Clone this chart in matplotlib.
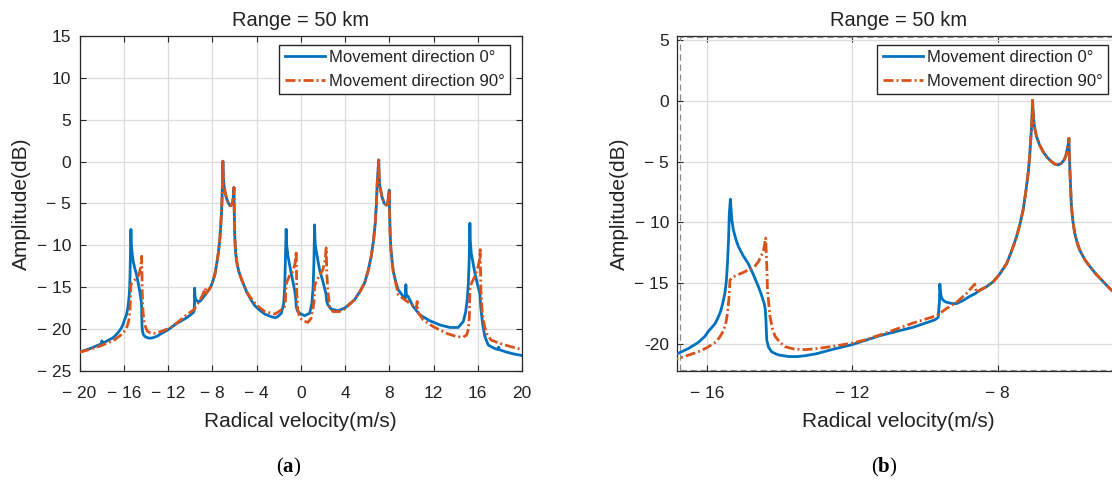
import matplotlib
matplotlib.use("Agg")
import matplotlib.pyplot as plt
from matplotlib.patches import Rectangle

# ---------------- data ----------------
# (radial velocity m/s, amplitude dB) for the 0 deg movement direction
spectrum_0deg = [
    (-20.00, -22.75), (-19.00, -22.30), (-18.30, -21.90), (-18.02, -21.75), (-17.97, -21.40),
    (-17.92, -21.70), (-17.50, -21.40), (-17.00, -21.05), (-16.82, -20.86), (-16.50, -20.40),
    (-16.23, -19.90), (-16.05, -19.40), (-15.96, -19.00), (-15.87, -18.70), (-15.77, -18.35),
    (-15.68, -17.80), (-15.62, -17.35), (-15.57, -16.80), (-15.50, -15.85), (-15.46, -14.80),
    (-15.43, -13.40), (-15.40, -11.40), (-15.38, -9.30), (-15.35, -8.10), (-15.33, -9.00),
    (-15.31, -9.80), (-15.27, -10.60), (-15.20, -11.40), (-15.13, -12.00), (-15.00, -12.75),
    (-14.86, -13.40), (-14.72, -14.30), (-14.58, -15.30), (-14.50, -15.95), (-14.42, -16.70),
    (-14.39, -17.20), (-14.37, -18.20), (-14.35, -19.70), (-14.30, -20.30), (-14.22, -20.67),
    (-14.10, -20.85), (-14.00, -20.95), (-13.74, -21.07), (-13.50, -21.07), (-13.30, -21.00),
    (-13.00, -20.85), (-12.57, -20.50), (-12.02, -20.10), (-11.24, -19.35), (-10.32, -18.65),
    (-9.73, -18.05), (-9.635, -17.85), (-9.60, -16.50), (-9.59, -15.10), (-9.57, -15.80),
    (-9.54, -16.27), (-9.47, -16.50), (-9.40, -16.60), (-9.25, -16.70), (-9.13, -16.70),
    (-8.95, -16.45), (-8.76, -16.10), (-8.60, -15.85), (-8.49, -15.60), (-8.30, -15.30),
    (-8.12, -14.90), (-7.95, -14.30), (-7.75, -13.40), (-7.62, -12.40), (-7.48, -11.20),
    (-7.39, -10.20), (-7.30, -9.00), (-7.23, -7.60), (-7.16, -5.96), (-7.12, -4.60),
    (-7.09, -3.20), (-7.06, -1.80), (-7.04, 0.05), (-7.02, -1.00), (-7.00, -1.84),
    (-6.97, -2.40), (-6.93, -2.94), (-6.85, -3.60), (-6.75, -4.18), (-6.64, -4.65),
    (-6.52, -5.00), (-6.43, -5.20), (-6.34, -5.28), (-6.25, -5.15), (-6.17, -4.86),
    (-6.12, -4.50), (-6.09, -4.04), (-6.06, -3.60), (-6.04, -3.08), (-6.01, -5.96),
    (-5.97, -8.70), (-5.93, -9.90), (-5.88, -10.90), (-5.81, -11.70), (-5.74, -12.30),
    (-5.60, -13.10), (-5.46, -13.66), (-5.30, -14.25), (-5.14, -14.76), (-5.00, -15.20),
    (-4.87, -15.60), (-4.50, -16.50), (-4.15, -17.20), (-3.75, -17.70), (-3.25, -18.20),
    (-2.70, -18.50), (-2.30, -18.65), (-2.07, -18.50), (-1.75, -18.10), (-1.55, -17.00),
    (-1.45, -15.00), (-1.39, -12.00), (-1.34, -9.00), (-1.32, -8.07), (-1.27, -10.00),
    (-1.15, -11.30), (-0.87, -13.30), (-0.56, -15.30), (-0.44, -16.50), (-0.41, -17.30),
    (-0.30, -17.80), (-0.11, -18.10), (0.34, -18.40), (0.80, -18.10), (1.00, -17.00),
    (1.12, -15.00), (1.19, -12.00), (1.23, -9.00), (1.25, -7.55), (1.30, -9.80),
    (1.38, -10.50), (1.70, -12.90), (2.00, -14.30), (2.28, -15.80), (2.34, -16.60),
    (2.45, -17.10), (2.75, -17.60), (3.35, -17.80), (3.96, -17.50), (4.86, -16.50),
    (5.40, -15.40), (5.77, -14.50), (6.10, -13.00), (6.37, -11.30), (6.58, -9.40),
    (6.73, -7.40), (6.84, -5.00), (6.91, -2.60), (7.05, 0.20), (7.09, -1.90),
    (7.16, -3.00), (7.34, -4.20), (7.55, -5.00), (7.75, -5.20), (7.88, -4.80),
    (7.95, -4.00), (8.00, -3.40), (8.03, -6.00), (8.08, -8.60), (8.15, -10.50),
    (8.36, -13.10), (8.60, -14.40), (8.81, -15.30), (9.26, -16.10), (9.46, -16.30),
    (9.50, -14.70), (9.55, -15.90), (9.70, -16.10), (10.16, -17.30), (10.77, -18.30),
    (11.67, -19.00), (12.58, -19.50), (13.48, -19.80), (14.23, -19.80), (14.69, -19.10),
    (14.90, -18.00), (15.05, -16.50), (15.15, -14.50), (15.22, -12.00), (15.27, -9.00),
    (15.29, -7.35), (15.33, -9.50), (15.41, -10.90), (15.74, -13.30), (16.00, -14.80),
    (16.20, -15.80), (16.28, -17.50), (16.45, -19.50), (16.65, -20.90), (16.95, -21.90),
    (17.50, -22.30), (17.86, -22.45), (17.90, -22.15), (17.95, -22.45), (18.50, -22.70),
    (19.20, -22.95), (20.00, -23.15),
]

# (radial velocity m/s, amplitude dB) for the 90 deg movement direction
spectrum_90deg = [
    (-20.00, -22.75), (-19.00, -22.40), (-18.00, -21.95), (-17.40, -21.60), (-16.82, -21.27),
    (-16.50, -20.95), (-16.23, -20.67), (-16.00, -20.35), (-15.77, -19.90), (-15.65, -19.50),
    (-15.55, -19.00), (-15.48, -18.40), (-15.43, -17.50), (-15.39, -16.30), (-15.36, -14.76),
    (-15.27, -14.50), (-14.95, -14.07), (-14.80, -13.85), (-14.67, -13.60), (-14.58, -13.25),
    (-14.49, -12.70), (-14.43, -12.20), (-14.38, -11.30), (-14.35, -13.50), (-14.33, -15.60),
    (-14.26, -17.80), (-14.19, -18.80), (-14.12, -19.40), (-14.00, -19.85), (-13.85, -20.25),
    (-13.60, -20.45), (-13.30, -20.50), (-13.00, -20.42), (-12.57, -20.25), (-12.00, -19.96),
    (-11.65, -19.70), (-11.10, -19.15), (-10.32, -18.30), (-9.68, -17.70), (-9.40, -17.10),
    (-9.13, -16.60), (-8.85, -15.85), (-8.63, -15.10), (-8.58, -15.80), (-8.49, -15.60),
    (-8.30, -15.30), (-8.12, -14.90), (-7.95, -14.30), (-7.75, -13.40), (-7.62, -12.40),
    (-7.48, -11.20), (-7.39, -10.20), (-7.30, -9.00), (-7.23, -7.60), (-7.16, -5.96),
    (-7.12, -4.60), (-7.09, -3.20), (-7.06, -1.80), (-7.04, 0.05), (-7.02, -1.00),
    (-7.00, -1.84), (-6.97, -2.40), (-6.93, -2.94), (-6.85, -3.60), (-6.75, -4.18),
    (-6.64, -4.65), (-6.52, -5.00), (-6.43, -5.20), (-6.34, -5.28), (-6.25, -5.15),
    (-6.17, -4.86), (-6.12, -4.50), (-6.09, -4.04), (-6.06, -3.60), (-6.04, -3.08),
    (-6.01, -5.96), (-5.97, -8.70), (-5.93, -9.90), (-5.88, -10.90), (-5.81, -11.70),
    (-5.74, -12.30), (-5.60, -13.10), (-5.46, -13.66), (-5.30, -14.25), (-5.14, -14.76),
    (-5.00, -15.20), (-4.87, -15.60), (-4.50, -16.30), (-4.15, -16.90), (-3.75, -17.40),
    (-3.25, -17.90), (-2.34, -18.20), (-2.07, -17.98), (-1.75, -17.70), (-1.47, -17.30),
    (-1.40, -17.00), (-1.32, -14.70), (-1.23, -14.30), (-1.01, -13.60), (-0.71, -13.10),
    (-0.50, -12.10), (-0.41, -10.70), (-0.36, -15.60), (-0.28, -17.60), (-0.11, -18.60),
    (0.19, -19.00), (0.64, -19.20), (0.94, -18.70), (1.10, -17.60), (1.18, -16.90),
    (1.26, -14.80), (1.39, -14.30), (1.70, -13.60), (2.00, -12.90), (2.21, -11.70),
    (2.30, -10.30), (2.36, -13.50), (2.45, -15.30), (2.60, -17.30), (2.90, -17.90),
    (3.51, -17.90), (3.96, -17.60), (4.86, -16.50), (5.40, -15.40), (5.77, -14.50),
    (6.10, -13.00), (6.37, -11.30), (6.58, -9.40), (6.73, -7.40), (6.84, -5.00),
    (6.91, -2.60), (7.05, 0.20), (7.09, -1.90), (7.16, -3.00), (7.34, -4.20),
    (7.55, -5.00), (7.75, -5.20), (7.88, -4.80), (7.95, -4.00), (8.00, -3.40),
    (8.03, -6.00), (8.08, -8.60), (8.15, -10.50), (8.36, -13.10), (8.81, -15.90),
    (9.41, -16.50), (10.16, -17.20), (10.45, -17.50), (10.52, -16.70), (10.57, -17.90),
    (11.07, -18.90), (11.97, -19.70), (13.18, -20.50), (14.09, -20.90), (14.69, -20.95),
    (15.00, -20.70), (15.15, -20.00), (15.24, -18.50), (15.30, -15.00), (15.44, -14.50),
    (15.74, -13.70), (16.04, -12.50), (16.16, -11.70), (16.22, -10.50), (16.28, -15.30),
    (16.40, -18.00), (16.60, -19.60), (16.80, -20.50), (17.20, -21.30), (18.00, -21.70),
    (19.00, -22.10), (20.00, -22.45),
]

series_labels = ["Movement direction 0°", "Movement direction 90°"]

xticks_a = [-20, -16, -12, -8, -4, 0, 4, 8, 12, 16, 20]
xticklabels_a = ["− 20", "− 16", "− 12", "− 8", "− 4", "0", "4", "8", "12", "16", "20"]
yticks_a = [-25, -20, -15, -10, -5, 0, 5, 10, 15]
yticklabels_a = ["− 25", "− 20", "− 15", "− 10", "− 5", "0", "5", "10", "15"]

xticks_b = [-16, -12, -8]
xticklabels_b = ["− 16", "− 12", "− 8"]
yticks_b = [-20, -15, -10, -5, 0, 5]
yticklabels_b = ["-20", "− 15", "− 10", "− 5", "0", "5"]

vel_0deg, amp_0deg = zip(*spectrum_0deg)
vel_90deg, amp_90deg = zip(*spectrum_90deg)

# ---------------- style ----------------
plt.rcParams["font.family"] = ["Liberation Sans", "DejaVu Sans"]
plt.rcParams["mathtext.fontset"] = "custom"
plt.rcParams["mathtext.rm"] = "Liberation Serif"
plt.rcParams["mathtext.bf"] = "Liberation Serif:bold"

TXT = "#222222"
AXC = "#262626"
BLUE = "#0072BD"
ORANGE = "#D95319"

W, H = 1112, 483
AX_W, AX_H = 442.5, 335
fig = plt.figure(figsize=(W / 100, H / 100), dpi=100)
fig.patch.set_facecolor("white")

ax_a = fig.add_axes([79.5 / W, 1 - 371 / H, AX_W / W, AX_H / H])
ax_b = fig.add_axes([677.3 / W, 1 - 371 / H, AX_W / W, AX_H / H])


def draw(ax):
    ax.plot(vel_0deg, amp_0deg, color=BLUE, lw=2.0, label=series_labels[0], zorder=3)
    ax.plot(vel_90deg, amp_90deg, color=ORANGE, lw=2.0, dashes=(3.6, 1.1, 0.7, 1.1),
            label=series_labels[1], zorder=4)
    for s in ax.spines.values():
        s.set_color(AXC)
        s.set_linewidth(0.9)
    ax.tick_params(direction="in", length=4, width=0.8, color=AXC, top=True,
                   right=True, labelsize=12.5, labelcolor=TXT)
    ax.tick_params(axis="x", pad=10.5)
    ax.tick_params(axis="y", pad=6)
    ax.grid(True, color="#dcdcdc", lw=0.9)
    ax.set_axisbelow(True)
    ax.set_title("Range = 50 km", fontsize=14.5, pad=7, color=TXT)
    ax.set_xlabel("Radical velocity(m/s)", fontsize=15, color=TXT, labelpad=8.5)
    ax.set_ylabel("Amplitude(dB)", fontsize=15, color=TXT, labelpad=4)
    # legend box: upper-right corner 12 px inside the right spine, 9 px below the top
    leg = ax.legend(loc="upper right",
                    bbox_to_anchor=(1 - 12 / AX_W, 1 - 9 / AX_H),
                    fontsize=12, frameon=True, fancybox=False,
                    edgecolor=AXC, framealpha=1, handlelength=2.4,
                    handletextpad=0.25, labelspacing=0.5, borderpad=0.32,
                    borderaxespad=0.0)
    leg.get_frame().set_linewidth(1.0)
    for t in leg.get_texts():
        t.set_color(TXT)


draw(ax_a)
ax_a.set_xlim(-20, 20)
ax_a.set_ylim(-25, 15)
ax_a.set_xticks(xticks_a, xticklabels_a)
ax_a.set_yticks(yticks_a, yticklabels_a)

draw(ax_b)
ax_b.set_xlim(-16.81, -4.64)
ax_b.set_ylim(-22.26, 5.35)
ax_b.set_xticks(xticks_b, xticklabels_b)
ax_b.set_yticks(yticks_b, yticklabels_b)
ax_b.add_patch(Rectangle((0.006, 0.004), 1.2, 0.992, transform=ax_b.transAxes,
                         fill=False, ls=(0, (5, 3)), lw=0.9, ec="#8a8a8a", zorder=5))

fig.text(289 / W, 1 - 467 / H, r"$\mathrm{(}\mathbf{a}\mathrm{)}$", fontsize=15,
         ha="center", va="center", color="black")
fig.text(884 / W, 1 - 467 / H, r"$\mathrm{(}\mathbf{b}\mathrm{)}$", fontsize=15,
         ha="center", va="center", color="black")

fig.savefig("out.png", dpi=100, facecolor="white")
